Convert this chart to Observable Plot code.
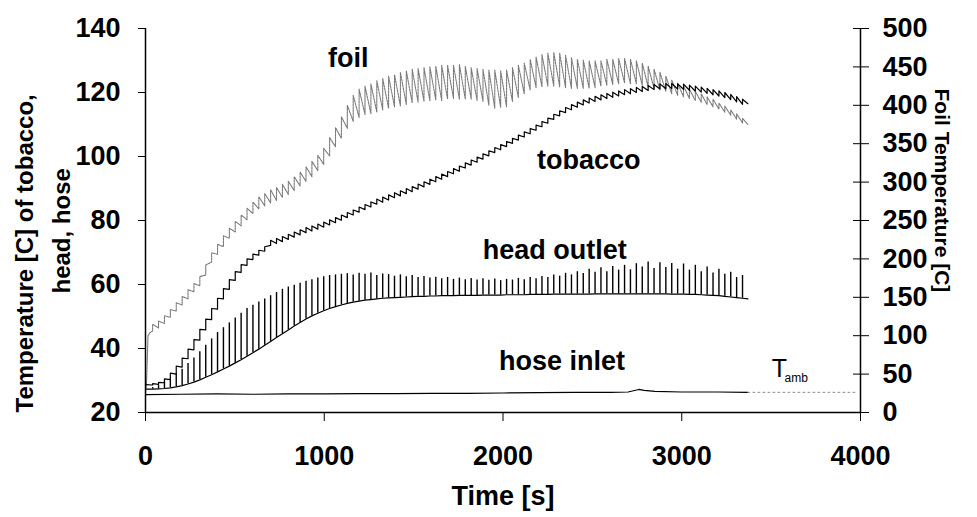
<!DOCTYPE html>
<html><head><meta charset="utf-8">
<script src="https://cdn.jsdelivr.net/npm/d3@7"></script>
<script src="https://cdn.jsdelivr.net/npm/@observablehq/plot@0.6"></script>
<style>body{margin:0;background:#fff;}</style>
</head><body><div id="chart"></div>
<script>
// ---- data ----
const xTicks = [0, 1000, 2000, 3000, 4000];
const leftTicks = [20, 40, 60, 80, 100, 120, 140];
const foilTicks = [0, 50, 100, 150, 200, 250, 300, 350, 400, 450, 500];

// puff times [s]
const puffTime = [40,73,106,139,172,205,238,271,304,337,370,403,436,469,502,535,568,601,634,667,700,733,766,799,832,865,898,931,964,997,1030,1063,1096,1129,1162,1195,1228,1261,1294,1327,1360,1393,1426,1459,1492,1525,1558,1591,1624,1657,1690,1723,1756,1789,1822,1855,1888,1921,1954,1987,2020,2053,2086,2119,2152,2185,2218,2251,2284,2317,2350,2383,2416,2449,2482,2515,2548,2581,2614,2647,2680,2713,2746,2779,2812,2845,2878,2911,2944,2977,3010,3043,3076,3109,3142,3175,3208,3241,3274,3307,3340];

// head outlet [C], trough before puff and puff peak
const headLow = [27.3,27.4,27.5,27.7,28,28.4,28.9,29.5,30.2,31,
31.8,32.7,33.6,34.5,35.5,36.5,37.6,38.7,39.8,41,
42.2,43.4,44.6,45.8,47,48.1,49.2,50.2,51,51.8,
52.5,53.1,53.6,54.1,54.5,54.8,55.1,55.3,55.5,55.7,
55.8,55.9,56,56.1,56.2,56.3,56.3,56.4,56.4,56.5,
56.5,56.5,56.6,56.6,56.6,56.6,56.7,56.7,56.7,56.7,
56.8,56.8,56.8,56.8,56.9,56.9,56.9,56.9,57,57,
57,57,57,57,57,57.1,57.1,57.1,57.1,57.1,
57.1,57.1,57.1,57.1,57.1,57.1,57.1,57.1,57,57,
57,56.9,56.9,56.8,56.7,56.6,56.5,56.3,56.1,55.9,55.7];
const headHigh = [27.8,28.4,29.5,30.5,32,33.5,35.3,37,39,41,
43,45,46.5,48,49.5,51,52.5,53.5,54.5,55.5,
56.5,57.5,58.5,59.2,59.8,60.4,61,61.5,62,62.4,
62.8,63,63.2,63.4,63,63.5,63.2,63.6,62.8,63.3,
63.1,62.6,63,62.4,62.8,62.2,62.5,62,62.3,61.8,
62.2,61.6,62,61.5,61.9,61.4,61.8,61.3,61.7,61.2,
61.6,61.4,61.9,61.5,62.2,61.8,62.5,62.2,63,62.6,
63.5,63,64,63.4,64.8,63.8,65.2,64,65.6,64.5,
66,64.6,66.5,65.5,67,65,66.8,65.3,66.6,64.8,
66.4,64.5,66,64,65.5,63.6,64.8,63.2,63.8,62.2,62.8];
const headStartEnd = [27.3, 55.5];

// tobacco [C]
const tobaccoLow = [28.6,28.8,29.3,30.3,32,34.2,36.8,39.6,42.6,45.8,
49,52.3,55.5,58.5,61.3,63.8,66,67.8,69.2,70.4,
72.2,72.8,73.4,74.1,74.8,75.5,76.2,76.7,77.3,77.9,
78.6,79.3,80.1,80.9,81.7,82.6,83.4,84.2,85.1,85.7,
86.4,87.1,87.7,88.4,89,89.8,90.5,91.3,92.1,92.9,
93.7,94.6,95.4,96.4,97.3,98.2,99.2,100.2,101.2,102.1,
103.1,104.1,105.1,106.1,107.1,108.2,109.3,110.4,111.6,112.7,
113.7,114.6,115.4,116.1,116.7,117.2,117.7,118.1,118.5,118.9,
119.3,119.6,120,120.3,120.6,120.9,121.1,121.2,121.2,121.1,
121,120.7,120.4,120.1,119.7,119.3,118.9,118.4,117.8,117.1,116.3];
const tobaccoHigh = [29,29.4,30.5,32.3,34.5,37,39.8,42.8,46,49.2,
52.5,55.7,58.7,61.5,64,66.2,68,69.5,70.7,71.8,
73.8,74.4,75,75.7,76.4,77.1,77.8,78.3,78.9,79.5,
80.2,80.9,81.7,82.5,83.3,84.2,85,85.8,86.7,87.3,
88,88.7,89.3,90,90.6,91.4,92.1,92.9,93.7,94.5,
95.3,96.2,97,98,98.9,99.8,100.8,101.8,102.8,103.7,
104.7,105.7,106.7,107.7,108.7,109.8,110.9,112,113.2,114.3,
115.3,116.2,117,117.7,118.3,118.8,119.3,119.7,120.1,120.5,
120.9,121.2,121.6,121.9,122.2,122.5,122.7,122.8,122.8,122.7,
122.6,122.3,122,121.7,121.3,120.9,120.5,120,119.4,118.7,117.9];
const tobaccoStartEnd = [28.7, 116.5];

// foil [C] (right axis)
const foilLow = [106,110,116,124,132,140,148,157,165,179,
196,206,216,227,235,243,251,259,265,269,
273,276,280,284,289,295,301,307,315,323,
334,346,357,370,379,384,388,389,391,394,
396,398,399,401,403,404,405,406,407,406,
408,409,408,408,408,406,405,400,396,397,
398,405,410,415,420,423,424,425,425,424,
423,422,422,422,422,423,425,426,427,428,
429,428,428,426,424,422,420,418,415,413,
411,409,406,404,401,398,395,391,387,382,377];
const foilHigh = [115,119,126,134,143,151,160,168,177,192,
208,219,230,240,249,257,266,274,281,285,
290,293,297,301,307,313,320,327,335,344,
358,371,385,400,413,421,425,428,432,435,
438,440,443,445,447,448,449,450,451,452,
452,452,453,451,449,448,447,446,446,445,
446,449,452,455,460,463,466,468,469,468,
465,462,460,459,458,458,458,460,460,461,
461,460,458,455,451,447,443,438,433,429,
425,421,418,415,411,408,403,399,394,389,383];
const foilInitTime = [0, 6, 14, 25];
const foilInit = [25, 40, 100, 104];
const foilEnd = 375;

// hose inlet [C]
const hoseTime = [0,200,400,600,800,1000,1200,1400,1600,1800,2000,2200,2400,2600,2700,2760,2790,2850,3000,3200,3370];
const hoseTemp = [25.6,25.7,25.8,25.7,25.8,25.8,25.9,25.9,26,26,26.1,26.2,26.3,26.3,26.4,27.2,26.9,26.6,26.4,26.4,26.3];
const endTime = 3370;

// ambient
const tambTime = [3370, 3980];
const tambTemp = [26.3, 26.3];

// annotations
const labelText = ["foil", "tobacco", "head outlet", "hose inlet"];
const labelTime = [1134, 2480, 2290, 2330];
const labelTemp = [130.6, 98.75, 70.6, 35.9];

// ---- build tables ----
const foilToLeft = r => 20 + r * 120 / 500;
const leftToFoil = v => (v - 20) * 500 / 120;

function saw(lo, hi, start, startTime, endVal) {
  const pts = [];
  startTime.forEach((t, j) => pts.push({t, v: start[j]}));
  puffTime.forEach((t, i) => { pts.push({t, v: lo[i]}); pts.push({t, v: hi[i]}); });
  pts.push({t: endTime, v: endVal});
  return pts;
}
const foilPts = saw(foilLow, foilHigh, foilInit, foilInitTime, foilEnd);
const tobaccoPts = saw(tobaccoLow, tobaccoHigh, [tobaccoStartEnd[0]], [0], tobaccoStartEnd[1]);
const headBase = [{t: 0, v: headStartEnd[0]}, ...puffTime.map((t, i) => ({t, v: headLow[i]})), {t: endTime, v: headStartEnd[1]}];
const headSpikes = puffTime.map((t, i) => ({t, lo: headLow[i], hi: headHigh[i]}));
const hose = hoseTime.map((t, i) => ({t, v: hoseTemp[i]}));
const tamb = tambTime.map((t, i) => ({t, v: tambTemp[i]}));
const labels = labelText.map((s, i) => ({s, t: labelTime[i], v: labelTemp[i]}));

const font = "'Liberation Sans', Arial, sans-serif";

const chart = Plot.plot({
  width: 977, height: 517,
  marginLeft: 145, marginRight: 117, marginTop: 28, marginBottom: 105,
  x: {domain: [0, 4000]},
  y: {domain: [20, 140]},
  style: {fontFamily: font, fontSize: "27px", fontWeight: "bold", color: "black", background: "white", overflow: "visible"},
  marks: [
    // series
    Plot.line(foilPts, {x: "t", y: d => foilToLeft(d.v), stroke: "#7a7a7a", strokeWidth: 1.1, strokeDasharray: "2,1"}),
    Plot.line(hose, {x: "t", y: "v", stroke: "black", strokeWidth: 1.2}),
    Plot.line(tamb, {x: "t", y: "v", stroke: "#8c8c8c", strokeWidth: 1, strokeDasharray: "2,3"}),
    Plot.ruleX(headSpikes, {x: "t", y1: "lo", y2: "hi", stroke: "black", strokeWidth: 1.4}),
    Plot.line(headBase, {x: "t", y: "v", stroke: "black", strokeWidth: 1.2}),
    Plot.line(tobaccoPts, {x: "t", y: "v", stroke: "black", strokeWidth: 1.2}),
    // frame lines
    Plot.ruleX([0], {stroke: "black", strokeWidth: 1.5}),
    Plot.ruleX([4000], {stroke: "black", strokeWidth: 1.5}),
    Plot.ruleY([20], {stroke: "black", strokeWidth: 1.5}),
    // axes
    Plot.axisY({anchor: "left", ticks: leftTicks, tickSize: 7, tickPadding: 18, label: null}),
    Plot.axisY({anchor: "right", ticks: foilTicks.map(foilToLeft), tickSize: 16, insetRight: 8, fill: "none", label: null}),
    Plot.axisY({anchor: "right", ticks: foilTicks.map(foilToLeft), tickSize: 0, tickPadding: 22, tickFormat: d => String(Math.round(leftToFoil(d))), label: null}),
    Plot.axisX({anchor: "bottom", ticks: xTicks, tickSize: 9, tickPadding: 24, tickFormat: d => String(d), label: null}),
    // series labels
    Plot.text(labels, {x: "t", y: "v", text: "s", fontSize: 27, fontWeight: "bold"}),
    Plot.text(["T"], {x: () => 3503, y: () => 33.75, text: d => d, textAnchor: "start", fontSize: 25, fontWeight: "normal"}),
    Plot.text(["amb"], {x: () => 3575, y: () => 30.6, text: d => d, textAnchor: "start", fontSize: 12, fontWeight: "normal"}),
    // axis titles
    Plot.text(["Time [s]"], {frameAnchor: "bottom", dy: 92, text: d => d, fontSize: 27, fontWeight: "bold"}),
    Plot.text(["Temperature [C] of tobacco,"], {frameAnchor: "bottom-left", dx: -113, dy: 0, rotate: -90, textAnchor: "start", text: d => d, fontSize: 24, fontWeight: "bold", ariaLabel: "ytitle1"}),
    Plot.text(["head, hose"], {frameAnchor: "bottom-left", dx: -76, dy: -119, rotate: -90, textAnchor: "start", text: d => d, fontSize: 24, fontWeight: "bold", ariaLabel: "ytitle2"}),
    Plot.text(["Foil Temperature [C]"], {frameAnchor: "top-right", dx: 89, dy: 60, rotate: 90, textAnchor: "start", text: d => d, fontSize: 21, fontWeight: "bold", ariaLabel: "ytitle3"})
  ]
});
d3.select(chart).selectAll('g[aria-label="ytitle1"] text').attr("textLength", 402).attr("lengthAdjust", "spacingAndGlyphs");
d3.select(chart).selectAll('g[aria-label="ytitle2"] text').attr("textLength", 146).attr("lengthAdjust", "spacingAndGlyphs");
d3.select(chart).selectAll('g[aria-label="ytitle3"] text').attr("textLength", 259).attr("lengthAdjust", "spacingAndGlyphs");
document.getElementById("chart").append(chart);
</script></body></html>
